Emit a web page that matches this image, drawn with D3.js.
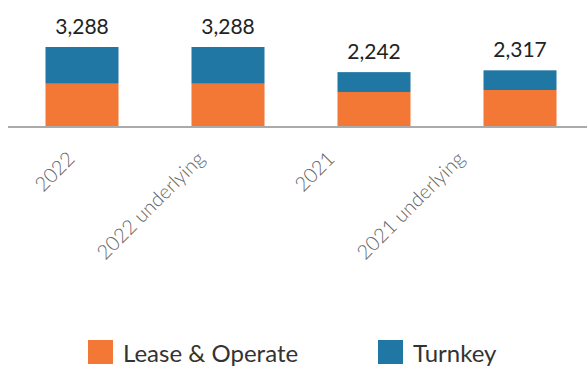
<!DOCTYPE html>
<html>
<head>
<meta charset="utf-8">
<script src="https://cdn.jsdelivr.net/npm/d3@7"></script>
<style>
  html, body { margin: 0; padding: 0; background: #fff; }
  svg { display: block; }
</style>
</head>
<body>
<svg id="chart" width="587" height="367"></svg>
<script>
// Revenue by segment
const categories = ["2022", "2022 underlying", "2021", "2021 underlying"];
const leaseOperate = [1760, 1760, 1415, 1498];
const turnkey = [1528, 1528, 827, 819];
const totals = [3288, 3288, 2242, 2317];
const seriesNames = ["Lease & Operate", "Turnkey"];
const seriesColors = ["#F37735", "#2177A3"];

const width = 587, height = 367;
const baseline = 126;

const rows = categories.map((c, i) => ({
  category: c,
  "Lease & Operate": leaseOperate[i],
  "Turnkey": turnkey[i],
  total: totals[i]
}));

const svg = d3.select("#chart");

const x = d3.scaleBand()
  .domain(categories)
  .range([9, 593])
  .paddingInner(0.5)
  .paddingOuter(0.25);

const y = d3.scaleLinear()
  .domain([0, 3288])
  .range([baseline, 47]);

// tick-label anchor positions along the axis
const labelX = d3.scalePoint()
  .domain(categories)
  .range([76, 466]);

const stack = d3.stack().keys(seriesNames);
const layers = stack(rows);
const color = d3.scaleOrdinal().domain(seriesNames).range(seriesColors);

svg.append("g")
  .selectAll("g")
  .data(layers)
  .join("g")
  .attr("fill", d => color(d.key))
  .selectAll("rect")
  .data(d => d)
  .join("rect")
  .attr("x", d => x(d.data.category))
  .attr("width", x.bandwidth())
  .attr("y", d => y(d[1]))
  .attr("height", d => y(d[0]) - y(d[1]));

// axis line
svg.append("line")
  .attr("x1", 8).attr("x2", width)
  .attr("y1", baseline + 1).attr("y2", baseline + 1)
  .attr("stroke", "#ababab")
  .attr("stroke-width", 2);

// totals above bars
svg.append("g")
  .selectAll("text")
  .data(rows)
  .join("text")
  .attr("x", d => x(d.category) + x.bandwidth() / 2)
  .attr("y", d => y(d.total) - 13)
  .attr("text-anchor", "middle")
  .attr("font-family", "Lato, sans-serif")
  .attr("font-size", 21)
  .attr("fill", "#222")
  .text(d => d3.format(",")(d.total));

// rotated category labels
svg.append("g")
  .selectAll("text")
  .data(categories)
  .join("text")
  .attr("transform", d => `translate(${labelX(d)},160) rotate(-45)`)
  .attr("text-anchor", "end")
  .attr("font-family", "Lato, sans-serif")
  .attr("font-weight", 300)
  .attr("font-size", 20)
  .attr("fill", "#666")
  .text(d => d);

// legend
const legend = svg.append("g")
  .selectAll("g")
  .data(seriesNames)
  .join("g")
  .attr("transform", (d, i) => `translate(${[88, 378][i]},340)`);

legend.append("rect")
  .attr("width", 25).attr("height", 24)
  .attr("fill", d => color(d));

legend.append("text")
  .attr("x", 35).attr("y", 22)
  .attr("font-family", "Lato, sans-serif")
  .attr("font-size", 24)
  .attr("fill", "#333")
  .text(d => d);
</script>
</body>
</html>
